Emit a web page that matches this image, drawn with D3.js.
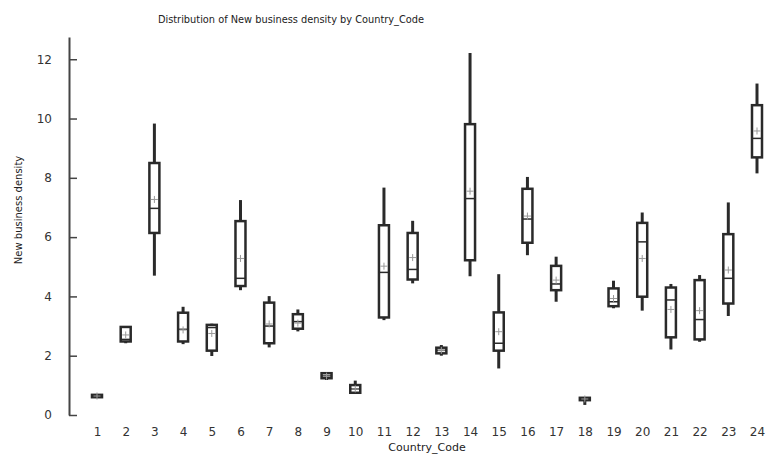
<!DOCTYPE html>
<html>
<head>
<meta charset="utf-8">
<script src="https://cdn.jsdelivr.net/npm/d3@7"></script>
<style>
  html, body { margin: 0; padding: 0; background: #fff; }
  svg { display: block; font-family: "DejaVu Sans", Verdana, sans-serif; }
</style>
</head>
<body>
<svg id="chart" width="768" height="455"></svg>
<script>
// Country codes on the x axis
const countryCodes = d3.range(1, 25).map(String);

// Five-number summary plus mean of New business density per country
const whiskerLow = [0.58, 2.42, 4.70, 2.39, 1.99, 4.21, 2.28, 2.82, 1.18, 0.73, 3.20, 4.44,
                    2.00, 4.68, 1.57, 5.39, 3.82, 0.34, 3.60, 3.52, 2.21, 2.47, 3.34, 8.15];
const quart1     = [0.60, 2.48, 6.14, 2.48, 2.17, 4.35, 2.42, 2.91, 1.24, 0.75, 3.29, 4.57,
                    2.08, 5.22, 2.17, 5.81, 4.21, 0.50, 3.67, 3.99, 2.62, 2.55, 3.76, 8.69];
const medians    = [0.64, 2.55, 6.97, 2.89, 2.95, 4.61, 3.00, 3.15, 1.32, 0.88, 4.81, 4.91,
                    2.18, 7.30, 2.42, 6.61, 4.42, 0.55, 3.82, 5.84, 3.88, 3.22, 4.61, 9.33];
const quart3     = [0.68, 2.97, 8.50, 3.45, 3.04, 6.54, 3.79, 3.40, 1.41, 1.01, 6.40, 6.14,
                    2.27, 9.81, 3.46, 7.63, 5.03, 0.58, 4.27, 6.48, 4.30, 4.55, 6.10, 10.45];
const whiskerHigh= [0.70, 3.00, 9.83, 3.65, 3.08, 7.25, 4.01, 3.56, 1.42, 1.16, 7.67, 6.55,
                    2.36, 12.21, 4.75, 8.03, 5.34, 0.60, 4.53, 6.83, 4.42, 4.72, 7.17, 11.18];
const means      = [0.64, 2.70, 7.27, 2.87, 2.75, 5.28, 3.07, 3.10, 1.31, 0.88, 5.02, 5.31,
                    2.18, 7.55, 2.81, 6.71, 4.55, 0.54, 3.93, 5.28, 3.56, 3.52, 4.89, 9.58];

const yTicks = [0, 2, 4, 6, 8, 10, 12];

const rows = countryCodes.map((c, i) => ({
  code: c, lo: whiskerLow[i], q1: quart1[i], med: medians[i],
  q3: quart3[i], hi: whiskerHigh[i], mean: means[i]
}));

const svg = d3.select("#chart");
const axisX = 69;

const x = d3.scalePoint().domain(countryCodes).range([97, 757]);
const y = d3.scaleLinear().domain([0, 12.75]).range([415, 37]);

// Title
svg.append("text")
  .attr("x", 291).attr("y", 23)
  .attr("text-anchor", "middle")
  .attr("font-size", 9.8)
  .attr("fill", "#222")
  .text("Distribution of New business density by Country_Code");

// Y axis with inward ticks
const yAxis = svg.append("g")
  .attr("transform", `translate(${axisX},0)`)
  .call(d3.axisLeft(y).tickValues(yTicks).tickSize(-8).tickPadding(17).tickSizeOuter(0));
yAxis.select(".domain").attr("stroke", "#444").attr("stroke-width", 2);
yAxis.selectAll(".tick line").attr("stroke", "#444").attr("stroke-width", 1.5);
yAxis.selectAll(".tick text").attr("font-size", 12).attr("fill", "#333")
  .attr("font-family", "DejaVu Sans, Verdana, sans-serif");

// X axis: labels only
const xAxis = svg.append("g")
  .attr("transform", `translate(0,421)`)
  .call(d3.axisBottom(x).tickSize(0).tickPadding(6));
xAxis.select(".domain").remove();
xAxis.selectAll(".tick text").attr("font-size", 12).attr("fill", "#333")
  .attr("font-family", "DejaVu Sans, Verdana, sans-serif");

// Axis titles
svg.append("text")
  .attr("x", 427).attr("y", 451)
  .attr("text-anchor", "middle")
  .attr("font-size", 11)
  .attr("fill", "#222")
  .text("Country_Code");

svg.append("text")
  .attr("transform", "translate(22,210) rotate(-90)")
  .attr("text-anchor", "middle")
  .attr("font-size", 10)
  .attr("fill", "#222")
  .text("New business density");

// Boxes
const boxW = 10;
const g = svg.append("g");
const box = g.selectAll("g.box").data(rows).join("g").attr("class", "box")
  .attr("transform", d => `translate(${x(d.code)},0)`);

box.append("line")
  .attr("x1", 0).attr("x2", 0)
  .attr("y1", d => y(d.hi)).attr("y2", d => y(d.lo))
  .attr("stroke", "#2a2a2a").attr("stroke-width", 3);

box.append("rect")
  .attr("x", -boxW / 2).attr("width", boxW)
  .attr("y", d => y(d.q3))
  .attr("height", d => Math.max(1, y(d.q1) - y(d.q3)))
  .attr("fill", "#fff").attr("stroke", "#2a2a2a").attr("stroke-width", 2.5);

box.append("line")
  .attr("x1", -boxW / 2).attr("x2", boxW / 2)
  .attr("y1", d => y(d.med)).attr("y2", d => y(d.med))
  .attr("stroke", "#2a2a2a").attr("stroke-width", 1.5);

// Mean markers
box.append("path")
  .attr("d", d => `M-3.5,${y(d.mean)}H3.5M0,${y(d.mean) - 3.5}V${y(d.mean) + 3.5}`)
  .attr("stroke", "#999").attr("stroke-width", 1);
</script>
</body>
</html>
